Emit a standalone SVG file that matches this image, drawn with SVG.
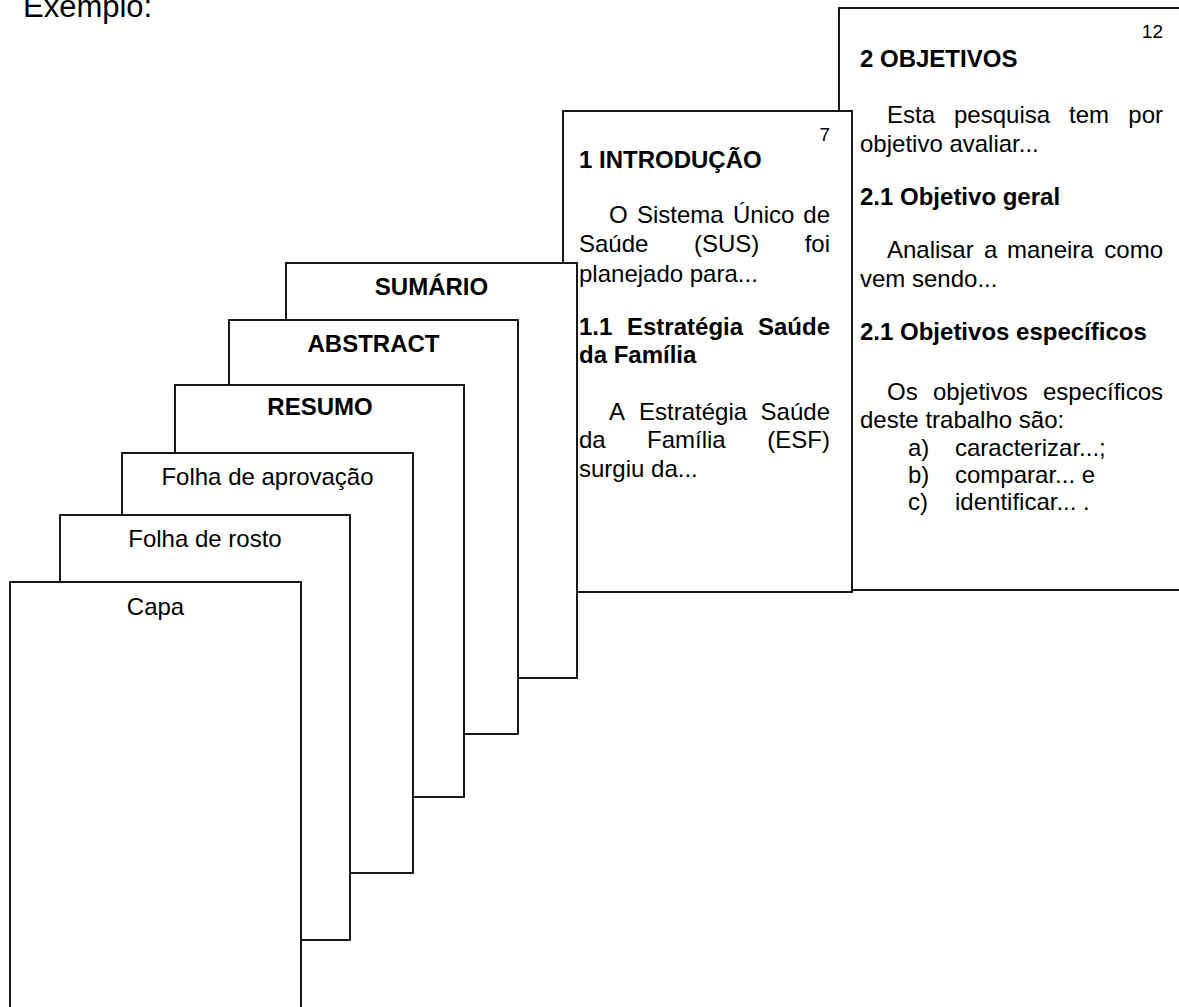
<svg xmlns="http://www.w3.org/2000/svg" width="1179" height="1007" viewBox="0 0 1179 1007">
<style>
.page{fill:#fff;stroke:#000;stroke-width:1.8}
text{font-family:"Liberation Sans",Arial,sans-serif;font-size:24px;fill:#000}
.b{font-weight:bold}
.c{text-anchor:middle}
.e{text-anchor:end}
.n{font-size:19px}
.h{font-size:31px}
</style>
<rect width="1179" height="1007" fill="#fff"/>
<text id="exemplo" class="h" x="23" y="17">Exemplo:</text>

<g id="page-objetivos">
<rect class="page" x="839" y="8" width="400" height="582"/>
<text class="n e" x="1163" y="38">12</text>
<text class="b" x="860" y="67">2 OBJETIVOS</text>
<text x="887" y="123">Esta</text><text x="954" y="123">pesquisa</text><text x="1069" y="123">tem</text><text class="e" x="1163" y="123">por</text>
<text x="860" y="152">objetivo avaliar...</text>
<text class="b" x="860" y="205">2.1 Objetivo geral</text>
<text x="887" y="258">Analisar</text><text x="984" y="258">a</text><text x="1007" y="258">maneira</text><text class="e" x="1163" y="258">como</text>
<text x="860" y="287">vem sendo...</text>
<text class="b" x="860" y="340">2.1 Objetivos específicos</text>
<text x="887" y="400">Os</text><text x="933" y="400">objetivos</text><text class="e" x="1163" y="400">específicos</text>
<text x="860" y="428">deste trabalho são:</text>
<text x="908" y="456">a)</text><text x="955" y="456">caracterizar...;</text>
<text x="908" y="483">b)</text><text x="955" y="483">comparar... e</text>
<text x="908" y="510">c)</text><text x="955" y="510">identificar... .</text>
</g>

<g id="page-introducao">
<rect class="page" x="563" y="111" width="289" height="481"/>
<text class="n e" x="830" y="141">7</text>
<text class="b" x="579" y="168">1 INTRODUÇÃO</text>
<text x="609" y="223">O</text><text x="637" y="223">Sistema</text><text x="733" y="223">Único</text><text class="e" x="830" y="223">de</text>
<text x="579" y="252">Saúde</text><text x="694" y="252">(SUS)</text><text class="e" x="830" y="252">foi</text>
<text x="579" y="282">planejado para...</text>
<text class="b" x="579" y="335">1.1</text><text class="b" x="627" y="335">Estratégia</text><text class="b e" x="830" y="335">Saúde</text>
<text class="b" x="579" y="363">da Família</text>
<text x="609" y="420">A</text><text x="639" y="420">Estratégia</text><text class="e" x="830" y="420">Saúde</text>
<text x="579" y="448">da</text><text x="647" y="448">Família</text><text class="e" x="830" y="448">(ESF)</text>
<text x="579" y="477">surgiu da...</text>
</g>

<g id="page-sumario">
<rect class="page" x="286" y="263" width="291" height="415"/>
<text class="b c" x="431.5" y="295">SUMÁRIO</text>
</g>

<g id="page-abstract">
<rect class="page" x="229" y="320" width="289" height="414"/>
<text class="b c" x="373.5" y="352">ABSTRACT</text>
</g>

<g id="page-resumo">
<rect class="page" x="175" y="385" width="289" height="412"/>
<text class="b c" x="320" y="415">RESUMO</text>
</g>

<g id="page-aprovacao">
<rect class="page" x="122" y="453" width="291" height="420"/>
<text class="c" x="267.5" y="485">Folha de aprovação</text>
</g>

<g id="page-rosto">
<rect class="page" x="60" y="515" width="290" height="425"/>
<text class="c" x="205" y="547">Folha de rosto</text>
</g>

<g id="page-capa">
<rect class="page" x="10" y="582" width="291" height="460"/>
<text class="c" x="155.5" y="615">Capa</text>
</g>
</svg>
